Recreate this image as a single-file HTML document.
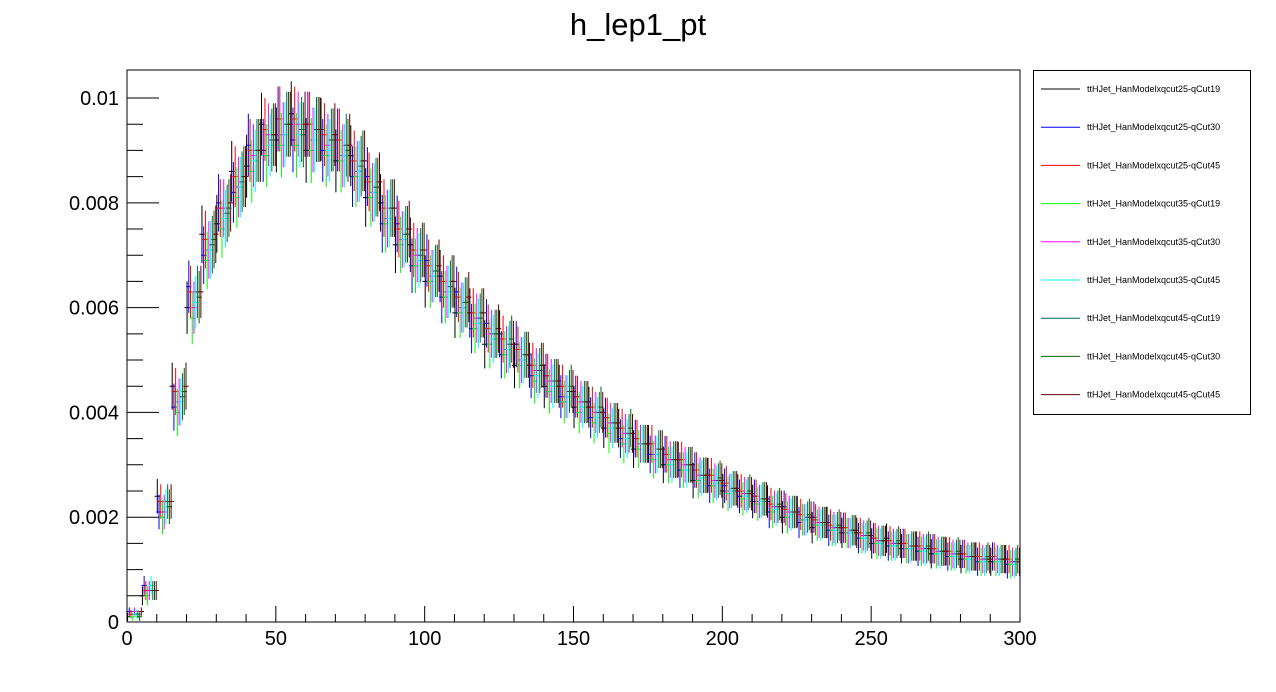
<!DOCTYPE html>
<html><head><meta charset="utf-8"><style>
body{margin:0;background:#fff;}
svg{display:block;font-family:"Liberation Sans",Arial,sans-serif;}
</style></head><body>
<svg id="chart" width="1276" height="692" viewBox="0 0 1276 692" xmlns="http://www.w3.org/2000/svg">
<rect width="1276" height="692" fill="#fff"/>
<text x="638" y="35" font-size="31" text-anchor="middle">h_lep1_pt</text>
<defs><clipPath id="clip"><rect x="127" y="70" width="893" height="552"/></clipPath></defs>
<g id="marks" clip-path="url(#clip)"></g>
<rect x="127" y="70" width="893" height="552" fill="none" stroke="#000" stroke-width="1"/>
<g id="axes"></g>
<g id="legend"></g>
</svg>
<script>
const seriesNames=["ttHJet_HanModelxqcut25-qCut19","ttHJet_HanModelxqcut25-qCut30","ttHJet_HanModelxqcut25-qCut45","ttHJet_HanModelxqcut35-qCut19","ttHJet_HanModelxqcut35-qCut30","ttHJet_HanModelxqcut35-qCut45","ttHJet_HanModelxqcut45-qCut19","ttHJet_HanModelxqcut45-qCut30","ttHJet_HanModelxqcut45-qCut45"];
const seriesColors=["#000000","#0000ff","#ff0000","#00ff00","#ff00ff","#00ffff","#006666","#006600","#660000"];
const binWidth=5;
const s0=[0.1,0.5,2.4,4.5,6.0,7.4,7.6,8.6,8.7,9.5,9.2,9.7,9.0,9.4,8.8,8.9,8.1,8.0,7.2,7.2,6.5,6.6,5.9,5.9,5.3,5.5,4.9,4.9,4.5,4.5,4.1,4.1,3.7,3.7,3.3,3.4,3.0,3.1,2.7,2.8,2.5,2.5,2.3,2.3,2.0,2.1,1.8,1.9,1.7,1.7,1.5,1.6,1.4,1.45,1.3,1.35,1.2,1.25,1.15,1.2];
const s1=[0.2,0.7,2.1,4.1,6.4,7.0,8.0,8.2,9.1,9.0,9.6,9.2,9.5,9.0,9.2,8.5,8.5,7.6,7.6,6.8,6.9,6.2,6.3,5.6,5.7,5.1,5.3,4.7,4.7,4.3,4.3,3.9,3.9,3.5,3.5,3.2,3.2,2.9,2.9,2.6,2.6,2.4,2.4,2.1,2.2,1.9,2.0,1.75,1.8,1.6,1.6,1.45,1.5,1.35,1.4,1.25,1.3,1.15,1.25,1.1];
const s2=[0.15,0.6,2.3,4.4,6.3,7.3,7.9,8.5,9.0,9.4,9.6,9.6,9.5,9.3,9.2,8.8,8.4,7.9,7.5,7.1,6.8,6.5,6.2,5.9,5.6,5.4,5.2,4.9,4.7,4.5,4.3,4.1,3.9,3.7,3.5,3.4,3.2,3.1,2.9,2.8,2.65,2.5,2.4,2.25,2.15,2.05,1.95,1.85,1.8,1.7,1.6,1.55,1.5,1.45,1.4,1.35,1.3,1.25,1.25,1.2];
const s3=[0.1,0.5,2.0,4.0,5.8,6.9,7.5,8.1,8.6,8.9,9.1,9.1,9.0,8.9,8.8,8.5,8.1,7.6,7.2,6.8,6.5,6.2,5.9,5.6,5.3,5.1,4.9,4.6,4.4,4.2,4.0,3.8,3.6,3.4,3.3,3.1,3.0,2.9,2.7,2.6,2.45,2.35,2.25,2.1,2.0,1.95,1.85,1.75,1.7,1.6,1.5,1.45,1.4,1.35,1.3,1.25,1.2,1.15,1.15,1.1];
const s4=[0.2,0.6,2.1,4.2,6.0,7.1,7.9,8.3,8.9,9.3,9.3,9.5,9.2,9.1,8.9,8.6,8.2,7.7,7.3,7.0,6.6,6.3,6.0,5.8,5.5,5.2,5.0,4.8,4.6,4.3,4.2,4.0,3.8,3.6,3.4,3.2,3.1,3.0,2.8,2.7,2.5,2.45,2.3,2.2,2.1,1.95,1.9,1.8,1.7,1.65,1.55,1.5,1.4,1.4,1.35,1.3,1.25,1.2,1.2,1.15];
const s5=[0.15,0.7,2.2,4.2,6.1,7.1,7.7,8.3,8.8,9.1,9.3,9.3,9.2,9.0,8.9,8.6,8.2,7.7,7.3,6.9,6.6,6.3,6.0,5.7,5.4,5.2,5.0,4.7,4.5,4.3,4.1,3.9,3.7,3.5,3.4,3.2,3.0,2.9,2.75,2.65,2.5,2.4,2.3,2.15,2.05,1.95,1.85,1.75,1.7,1.6,1.5,1.45,1.4,1.35,1.3,1.25,1.2,1.15,1.15,1.1];
const s6=[0.15,0.6,2.3,4.3,6.3,7.2,7.8,8.4,9.0,9.2,9.5,9.4,9.4,9.2,9.1,8.7,8.3,7.9,7.4,7.0,6.7,6.4,6.1,5.8,5.5,5.3,5.1,4.8,4.6,4.4,4.2,4.0,3.8,3.6,3.4,3.3,3.1,3.0,2.8,2.7,2.55,2.45,2.35,2.2,2.1,2.0,1.9,1.8,1.75,1.65,1.55,1.5,1.45,1.4,1.35,1.3,1.25,1.2,1.2,1.15];
const s7=[0.1,0.6,2.2,4.4,6.2,7.3,7.9,8.5,9.0,9.3,9.5,9.3,9.4,9.2,9.0,8.8,8.3,7.9,7.4,7.1,6.7,6.5,6.1,5.9,5.5,5.4,5.1,4.9,4.6,4.5,4.2,4.1,3.8,3.7,3.4,3.3,3.1,3.0,2.8,2.75,2.55,2.5,2.35,2.25,2.1,2.05,1.9,1.85,1.75,1.7,1.55,1.55,1.45,1.45,1.35,1.35,1.25,1.25,1.2,1.2];
const s8=[0.2,0.6,2.3,4.5,6.3,7.4,8.0,8.5,9.0,9.3,9.5,9.5,9.4,9.3,9.1,8.8,8.4,7.9,7.5,7.1,6.8,6.5,6.2,5.9,5.6,5.3,5.1,4.9,4.6,4.4,4.2,4.0,3.8,3.6,3.4,3.3,3.1,3.0,2.8,2.7,2.55,2.45,2.35,2.2,2.1,2.0,1.9,1.8,1.75,1.65,1.55,1.5,1.45,1.4,1.35,1.3,1.25,1.2,1.2,1.15];
const errs=[0.08,0.18,0.33,0.45,0.5,0.55,0.55,0.58,0.6,0.6,0.62,0.62,0.62,0.6,0.6,0.58,0.56,0.55,0.54,0.52,0.5,0.5,0.48,0.47,0.46,0.45,0.44,0.43,0.42,0.41,0.4,0.39,0.38,0.37,0.36,0.36,0.35,0.34,0.34,0.33,0.33,0.32,0.32,0.31,0.31,0.3,0.3,0.3,0.29,0.29,0.29,0.28,0.28,0.28,0.28,0.27,0.27,0.27,0.27,0.27];
const seriesValues=[s0,s1,s2,s3,s4,s5,s6,s7,s8];
const xTicks=[0,50,100,150,200,250,300];
const yTicks=[0,0.002,0.004,0.006,0.008,0.01];
const yTickLabels=["0","0.002","0.004","0.006","0.008","0.01"];

const X0=127,X1=1020,Y0=622,Y1=70,xMax=300,yMax=0.010535;
const xs=v=>X0+(v/xMax)*(X1-X0);
const ys=v=>Y0-(v/yMax)*(Y0-Y1);
const NS="http://www.w3.org/2000/svg";
function mk(tag,attrs,parent){const e=document.createElementNS(NS,tag);for(const k in attrs)e.setAttribute(k,attrs[k]);parent.appendChild(e);return e;}

const marks=document.getElementById('marks');
seriesValues.forEach((arr,si)=>{
  const g=mk('g',{},marks);
  
  
  const off=(si-4)*0.58;
  arr.forEach((v,i)=>{
    const xc=(i+0.5)*binWidth+off;
    const y=v*1e-3, e=errs[i]*1e-3;
    const p=mk('path',{d:`M${xs(xc-0.9)},${ys(y)}H${xs(xc+0.9)}M${xs(xc)},${ys(y+e)}V${ys(Math.max(0,y-e))}`,stroke:seriesColors[si],'stroke-width':1,fill:'none'},g);
    
    
  });
});

const axes=document.getElementById('axes');
let d='';
for(let v=0;v<=300;v+=10){const big=v%50===0;d+=`M${xs(v)},${Y0}V${Y0-(big?16:8)}`;}
for(let v=0;v<=0.0105;v+=0.0005){const big=Math.round(v*1e4)%20===0;d+=`M${X0},${ys(v)}H${X0+(big?32:16)}`;}
mk('path',{d:d,stroke:'#000','stroke-width':1,fill:'none'},axes);
xTicks.forEach(v=>{
  const t=mk('text',{x:xs(v),y:645,'font-size':20,'text-anchor':'middle'},axes);
  t.textContent=v;
  
  
});
yTicks.forEach((v,i)=>{
  const t=mk('text',{x:119,y:ys(v)+7,'font-size':20,'text-anchor':'end'},axes);
  t.textContent=yTickLabels[i];
  
  
});

const leg=document.getElementById('legend');
mk('rect',{x:1033.5,y:70.5,width:217,height:344,fill:'#fff',stroke:'#000','stroke-width':1},leg);
seriesNames.forEach((n,i)=>{
  const y=89+i*38.2;
  const g=mk('g',{},leg);
  
  
  mk('line',{x1:1041,x2:1080,y1:y,y2:y,stroke:seriesColors[i],'stroke-width':1},g);
  const t=mk('text',{x:1087,y:y+3,'font-size':9},g);
  t.textContent=n;
});
</script>
</body></html>
